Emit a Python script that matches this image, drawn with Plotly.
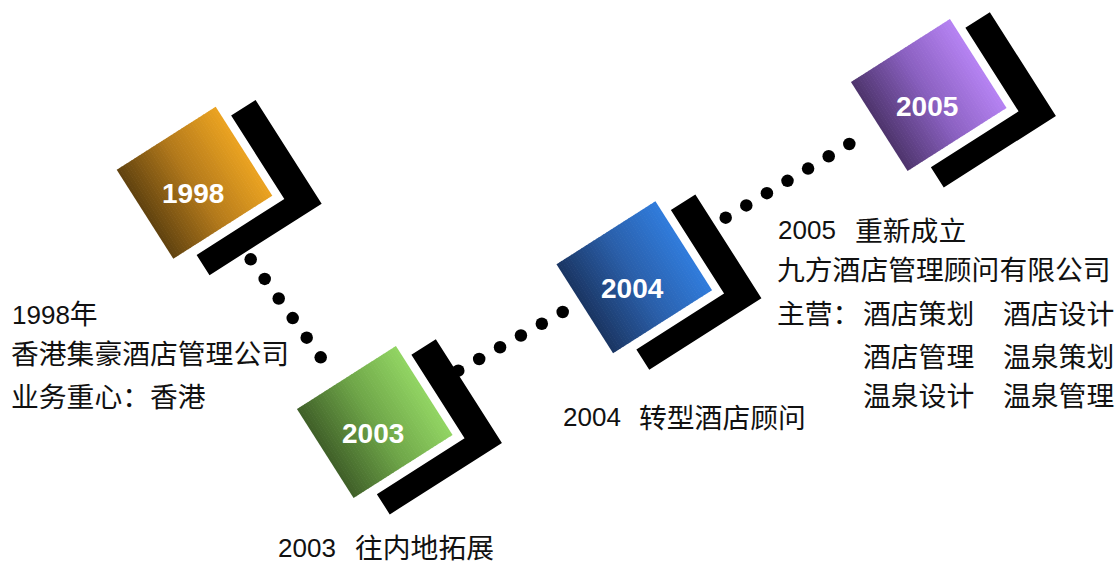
import numpy as np
import plotly.graph_objects as go

# ---------------- data ----------------
years = ["1998", "2003", "2004", "2005"]
intro_1998 = ["1998年", "香港集豪酒店管理公司", "业务重心：香港"]
milestone_years = ["2003", "2004", "2005"]
milestone_titles = ["往内地拓展", "转型酒店顾问", "重新成立"]
company_2005 = "九方酒店管理顾问有限公司"
business_label = "主营："
business_areas = ["酒店策划", "酒店设计", "酒店管理", "温泉策划", "温泉设计", "温泉管理"]

# ---------------- styles / layout ----------------
box_dark = ["#60420f", "#3f5f28", "#1a3562", "#4d346c"]
box_mid = ["#b47a1b", "#6ea548", "#2a5faa", "#8a60c0"]
box_bright = ["#eba321", "#92d563", "#307cdc", "#b683f3"]
box_centers = [(194.5, 182.75), (374.75, 422.0), (634.25, 277.25), (928.75, 95.0)]
ANG = np.deg2rad(32.5)
U = np.array([np.cos(ANG), -np.sin(ANG)])
V = np.array([np.sin(ANG), np.cos(ANG)])
HW, HH = 58.7, 52.7
chev_local = [(96, -37), (96, 86), (-37, 86), (-37, 62), (67, 62), (67, -37)]

dot_starts = [(250.7, 259.3), (458.3, 370.7), (725.7, 217.7)]
dot_ends = [(320.7, 357.3), (562.7, 312.0), (849.3, 144.0)]
dot_counts = [6, 6, 7]

CJK = "Noto Sans CJK SC"
LAT = "Liberation Sans"
TXT = "#111111"
CJK_SIZE = 27.8
NUM_SIZE = 26


def to_screen(c, pts):
    return [(c[0] + p[0] * U[0] + p[1] * V[0], c[1] + p[0] * U[1] + p[1] * V[1]) for p in pts]


def path(pts):
    return "M " + " L ".join(f"{x:.2f},{y:.2f}" for x, y in pts) + " Z"


def hex2rgb(h):
    h = h.lstrip("#")
    return np.array([int(h[i:i + 2], 16) for i in (0, 2, 4)], float)


def grad(t, c0, c1, c2):
    a, b, c = hex2rgb(c0), hex2rgb(c1), hex2rgb(c2)
    col = a + (b - a) * (t / 0.5) if t < 0.5 else b + (c - b) * ((t - 0.5) / 0.5)
    return "rgb(%d,%d,%d)" % tuple(np.round(col).astype(int))


fig = go.Figure()

# dotted connectors
dx, dy = [], []
for s, e, n in zip(dot_starts, dot_ends, dot_counts):
    dx += list(np.linspace(s[0], e[0], n)) + [None]
    dy += list(np.linspace(s[1], e[1], n)) + [None]
fig.add_trace(go.Scatter(x=dx, y=dy, mode="markers", hoverinfo="skip",
                         marker=dict(size=12.5, color="black", line=dict(width=0))))

shapes = []
annotations = []
NS = 40
for i, yr in enumerate(years):
    c = box_centers[i]
    shapes.append(dict(type="path", path=path(to_screen(c, chev_local)), fillcolor="black",
                       line=dict(width=0), layer="above", xref="x", yref="y"))
    for k in range(NS):
        u0 = -HW + 2 * HW * k / NS
        u1 = -HW + 2 * HW * (k + 1) / NS + (0.6 if k < NS - 1 else 0)
        col = grad((k + 0.5) / NS, box_dark[i], box_mid[i], box_bright[i])
        pts = to_screen(c, [(u0, -HH), (u1, -HH), (u1, HH), (u0, HH)])
        shapes.append(dict(type="path", path=path(pts), fillcolor=col,
                           line=dict(width=0), layer="above", xref="x", yref="y"))
    annotations.append(dict(x=c[0] - 2, y=c[1] + 11, text="<b>%s</b>" % yr, showarrow=False,
                            xanchor="center", yanchor="middle",
                            font=dict(family=LAT, size=28, color="white")))


def add_text(x, y, text, family=CJK, size=CJK_SIZE):
    annotations.append(dict(x=x, y=y, text=text, showarrow=False, xanchor="left",
                            yanchor="middle", borderpad=0,
                            font=dict(family=family, size=size, color=TXT)))


# 1998 block
add_text(11, 312, '<span style="font-family:Liberation Sans;font-size:%dpx">%s</span>%s'
         % (NUM_SIZE, intro_1998[0][:4], intro_1998[0][4:]))
add_text(10, 352, intro_1998[1])
add_text(10, 395, intro_1998[2])

# milestones with year + title
year_pos = [(277, 548), (562, 417), (777, 230)]
title_pos = [(354, 546), (638, 416), (854, 229)]
for (yx, yy), (tx, ty), yr, tt in zip(year_pos, title_pos, milestone_years, milestone_titles):
    add_text(yx, yy, yr, family=LAT, size=NUM_SIZE)
    add_text(tx, ty, tt)

# 2005 details
add_text(776, 268, company_2005)
add_text(776, 312, business_label)
col_x = [862, 1002]
row_y = [312, 355, 394]
for j, area in enumerate(business_areas):
    add_text(col_x[j % 2], row_y[j // 2], area)

fig.update_layout(
    width=1116, height=565,
    margin=dict(l=0, r=0, t=0, b=0),
    paper_bgcolor="white", plot_bgcolor="white",
    showlegend=False,
    xaxis=dict(range=[0, 1116], visible=False, fixedrange=True),
    yaxis=dict(range=[565, 0], visible=False, fixedrange=True),
    shapes=shapes, annotations=annotations,
)
fig.write_html("out.html", config={"displayModeBar": False},
               post_script="document.body.style.margin='0';document.body.style.padding='0';")
